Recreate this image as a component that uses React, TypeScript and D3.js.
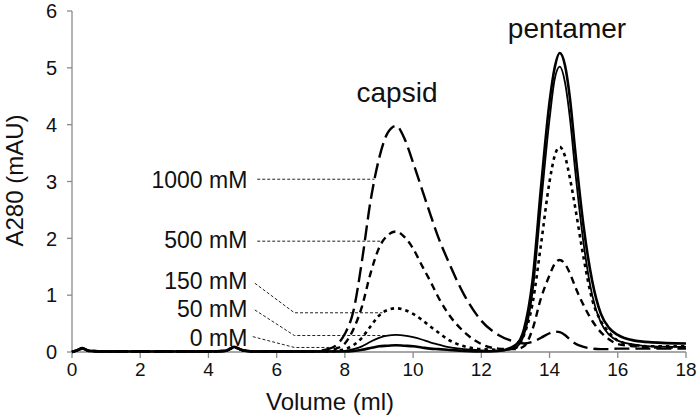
import React from "react";
import * as d3 from "d3";

const volumes = [0, 0.15, 0.3, 0.5, 1, 2, 3, 4, 4.5, 4.75, 5, 5.3, 6, 7, 7.5, 7.75, 8, 8.25, 8.5, 8.75, 9, 9.25, 9.5, 9.75, 10, 10.25, 10.5, 10.75, 11, 11.5, 12, 12.5, 13, 13.25, 13.5, 13.75, 14, 14.15, 14.3, 14.45, 14.6, 14.75, 15, 15.25, 15.5, 15.75, 16, 16.5, 17, 18];

const a0 = [0, 0.03, 0.07, 0.02, 0.01, 0.01, 0.01, 0.01, 0.02, 0.09, 0.03, 0.01, 0.01, 0.01, 0.01, 0.01, 0.01, 0.02, 0.04, 0.07, 0.1, 0.11, 0.12, 0.11, 0.1, 0.08, 0.06, 0.05, 0.04, 0.02, 0.01, 0.02, 0.12, 0.4, 1.25, 2.9, 4.4, 5.0, 5.26, 5.05, 4.45, 3.55, 2.2, 1.25, 0.68, 0.42, 0.3, 0.2, 0.17, 0.15];
const a50 = [0, 0.03, 0.07, 0.02, 0.01, 0.01, 0.01, 0.01, 0.02, 0.09, 0.03, 0.01, 0.01, 0.01, 0.01, 0.01, 0.02, 0.05, 0.1, 0.18, 0.25, 0.29, 0.3, 0.29, 0.26, 0.22, 0.17, 0.13, 0.09, 0.05, 0.03, 0.02, 0.08, 0.3, 1.05, 2.6, 4.1, 4.8, 5.02, 4.75, 4.1, 3.2, 1.9, 1.0, 0.52, 0.3, 0.2, 0.13, 0.1, 0.09];
const a150 = [0, 0.03, 0.06, 0.02, 0.01, 0.01, 0.01, 0.01, 0.02, 0.08, 0.03, 0.01, 0.01, 0.01, 0.01, 0.02, 0.05, 0.12, 0.25, 0.45, 0.64, 0.74, 0.77, 0.74, 0.67, 0.57, 0.45, 0.34, 0.23, 0.1, 0.05, 0.04, 0.07, 0.3, 0.85, 1.9, 3.0, 3.45, 3.61, 3.45, 3.05, 2.55, 1.65, 0.92, 0.55, 0.34, 0.2, 0.12, 0.1, 0.1];
const a500 = [0, 0.03, 0.06, 0.02, 0.01, 0.01, 0.01, 0.01, 0.02, 0.08, 0.03, 0.01, 0.01, 0.01, 0.02, 0.06, 0.15, 0.4, 0.8, 1.38, 1.83, 2.05, 2.12, 2.02, 1.82, 1.53, 1.25, 0.95, 0.7, 0.35, 0.14, 0.06, 0.05, 0.1, 0.4, 0.95, 1.35, 1.55, 1.62, 1.55, 1.38, 1.15, 0.82, 0.55, 0.35, 0.22, 0.14, 0.1, 0.08, 0.08];
const a1000 = [0, 0.03, 0.06, 0.02, 0.01, 0.01, 0.01, 0.01, 0.02, 0.08, 0.03, 0.01, 0.01, 0.01, 0.05, 0.12, 0.32, 0.72, 1.6, 2.65, 3.4, 3.85, 3.98, 3.75, 3.33, 2.88, 2.43, 2.0, 1.64, 1.0, 0.55, 0.3, 0.18, 0.15, 0.18, 0.25, 0.33, 0.36, 0.35, 0.3, 0.22, 0.15, 0.09, 0.06, 0.05, 0.05, 0.06, 0.06, 0.06, 0.06];

const seriesNames = ["0 mM", "50 mM", "150 mM", "500 mM", "1000 mM"];
const seriesValues = [a0, a50, a150, a500, a1000];
const seriesDash = ["none", "none", "3.5,4", "7,5", "15,6"];
const seriesWidth = [2.6, 1.8, 2.6, 2.4, 2.4];

// label text position (volume of right edge, absorbance of middle)
const labelVolume = 5.14;
const labelAbs = [0.26, 0.76, 1.25, 1.97, 3.04];
// leader lines: [start vol, start abs, elbow vol, elbow abs, end vol]
const leaders = [
  [5.3, 0.27, 6.52, 0.08, 7.9],
  [5.36, 0.74, 6.52, 0.29, 9.3],
  [5.36, 1.21, 6.52, 0.69, 9.1],
  [5.43, 1.95, 6.52, 1.95, 9.1],
  [5.43, 3.04, 6.52, 3.04, 8.87],
];

const xTicks = [0, 2, 4, 6, 8, 10, 12, 14, 16, 18];
const yTicks = [0, 1, 2, 3, 4, 5, 6];

const W = 700;
const H = 419;
const m = { left: 72, right: 14, top: 11, bottom: 67 };

export default function App() {
  const x = d3.scaleLinear().domain([0, 18]).range([m.left, W - m.right]);
  const y = d3.scaleLinear().domain([0, 6]).range([H - m.bottom, m.top]);
  const line = d3
    .line<number>()
    .x((_, i) => x(volumes[i]))
    .y((d) => y(d))
    .curve(d3.curveMonotoneX);
  const font = "'Liberation Sans', Arial, sans-serif";
  const axisColor = "#8a8a8a";
  const txt = "#111";
  return (
    <svg width={W} height={H} style={{ position: "absolute", left: 0, top: 0, background: "#fff" }}>
      {/* axes */}
      <line x1={x(0)} x2={x(0)} y1={y(0)} y2={y(6)} stroke={axisColor} strokeWidth={1.3} />
      <line x1={x(0)} x2={x(18)} y1={y(0)} y2={y(0)} stroke={axisColor} strokeWidth={1.3} />
      {yTicks.map((t) => (
        <g key={"y" + t}>
          <line x1={x(0) - 5} x2={x(0)} y1={y(t)} y2={y(t)} stroke={axisColor} strokeWidth={1.3} />
          <text x={x(0) - 15} y={y(t)} dy="0.36em" textAnchor="end" fontFamily={font} fontSize={20} fill={txt}>
            {t}
          </text>
        </g>
      ))}
      {xTicks.map((t) => (
        <g key={"x" + t}>
          <line x1={x(t)} x2={x(t)} y1={y(0)} y2={y(0) + 6} stroke={axisColor} strokeWidth={1.3} />
          <text x={x(t)} y={y(0) + 24} textAnchor="middle" fontFamily={font} fontSize={19} fill={txt}>
            {t}
          </text>
        </g>
      ))}
      <text x={330} y={410} textAnchor="middle" fontFamily={font} fontSize={24} fill={txt}>
        Volume (ml)
      </text>
      <text
        transform={`translate(23,${(y(0) + y(6)) / 2 - 1}) rotate(-90)`}
        textAnchor="middle"
        fontFamily={font}
        fontSize={24}
        fill={txt}
      >
        A280 (mAU)
      </text>

      {/* leader lines */}
      {leaders.map((l, i) => (
        <polyline
          key={"ld" + i}
          points={`${x(l[0])},${y(l[1])} ${x(l[2])},${y(l[3])} ${x(l[4])},${y(l[3])}`}
          fill="none"
          stroke="#222"
          strokeWidth={1}
          strokeDasharray="3,2"
        />
      ))}
      {seriesNames.map((n, i) => (
        <text
          key={"lb" + i}
          x={x(labelVolume)}
          y={y(labelAbs[i])}
          dy="0.36em"
          textAnchor="end"
          fontFamily={font}
          fontSize={23}
          fill={txt}
        >
          {n}
        </text>
      ))}

      {/* curves */}
      {seriesValues.map((vals, i) => (
        <path
          key={"s" + i}
          d={line(vals) || ""}
          fill="none"
          stroke="#000"
          strokeWidth={seriesWidth[i]}
          strokeDasharray={seriesDash[i]}
          strokeLinejoin="round"
        />
      ))}

      <text x={397} y={102} textAnchor="middle" fontFamily={font} fontSize={28} fill={txt}>
        capsid
      </text>
      <text x={567} y={38} textAnchor="middle" fontFamily={font} fontSize={28} fill={txt}>
        pentamer
      </text>
    </svg>
  );
}
